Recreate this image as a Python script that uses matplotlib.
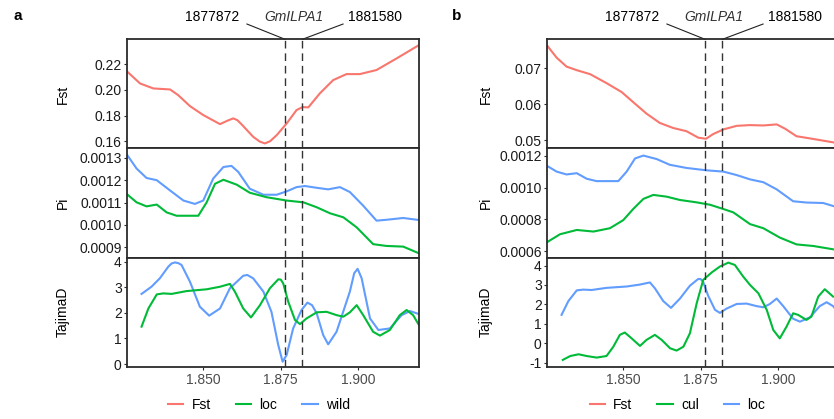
import matplotlib
matplotlib.use("Agg")
import matplotlib.pyplot as plt
from matplotlib.ticker import FixedLocator, FormatStrFormatter
from matplotlib.lines import Line2D

plt.rcParams['font.family'] = ['Liberation Sans', 'DejaVu Sans']
plt.rcParams['font.size'] = 10

# positions are in Mb
# ---- panel a: Fst (loc vs wild) ----
fst_a_pos = [1.8255, 1.8296, 1.8339, 1.8393, 1.8419, 1.8457, 1.8500, 1.8554, 1.8580, 1.8597,
             1.8610, 1.8625, 1.8661, 1.8682, 1.8699, 1.8716, 1.8737, 1.8769, 1.8801, 1.8820,
             1.8839, 1.8876, 1.8919, 1.8962, 1.9005, 1.9059, 1.9124, 1.9196]
fst_a = [0.2143, 0.2051, 0.2012, 0.2004, 0.1960, 0.1874, 0.1804, 0.1733, 0.1762, 0.1778,
         0.1764, 0.1728, 0.1634, 0.1597, 0.1582, 0.1600, 0.1647, 0.1738, 0.1843, 0.1866,
         0.1864, 0.1973, 0.2077, 0.2124, 0.2124, 0.2156, 0.2247, 0.2351]

# ---- Pi ----
pi_wild_pos = [1.8255, 1.8285, 1.8317, 1.8350, 1.8393, 1.8436, 1.8473, 1.8500, 1.8532, 1.8565,
               1.8591, 1.8613, 1.8650, 1.8694, 1.8737, 1.8769, 1.8801, 1.8828, 1.8866, 1.8903,
               1.8941, 1.8973, 1.9016, 1.9059, 1.9091, 1.9145, 1.9196]
pi_wild = [0.001312, 0.001252, 0.001210, 0.001200, 0.001154, 0.001109, 0.001094, 0.001109, 0.001207, 0.001259,
           0.001264, 0.001237, 0.001162, 0.001135, 0.001135, 0.001150, 0.001169, 0.001174, 0.001166, 0.001159,
           0.001169, 0.001147, 0.001086, 0.001019, 0.001023, 0.001031, 0.001022]

pi_loc_pos = [1.8255, 1.8285, 1.8317, 1.8350, 1.8382, 1.8414, 1.8484, 1.8511, 1.8538, 1.8565,
              1.8608, 1.8650, 1.8704, 1.8769, 1.8823, 1.8866, 1.8909, 1.8952, 1.8995, 1.9048,
              1.9091, 1.9145, 1.9196]
pi_loc = [0.001136, 0.001101, 0.001083, 0.001091, 0.001056, 0.001041, 0.001041, 0.001101, 0.001184, 0.001202,
          0.001180, 0.001144, 0.001124, 0.001109, 0.001101, 0.001079, 0.001052, 0.001034, 0.000989, 0.000914,
          0.000906, 0.000903, 0.000873]

pi_cul_pos = [1.8255, 1.8296, 1.8350, 1.8404, 1.8457, 1.8500, 1.8532, 1.8565, 1.8597, 1.8640,
              1.8683, 1.8737, 1.8780, 1.8823, 1.8855, 1.8909, 1.8952, 1.9005, 1.9059, 1.9113,
              1.9196]
pi_cul = [0.000657, 0.000706, 0.000733, 0.000723, 0.000744, 0.000795, 0.000865, 0.000929, 0.000954, 0.000943,
          0.000922, 0.000907, 0.000892, 0.000865, 0.000844, 0.000770, 0.000744, 0.000685, 0.000642, 0.000632,
          0.000605]

# ---- TajimaD ----
taj_wild_pos = [1.8301, 1.8333, 1.8360, 1.8387, 1.8398, 1.8409, 1.8420, 1.8430, 1.8457, 1.8489,
                1.8519, 1.8554, 1.8586, 1.8629, 1.8642, 1.8661, 1.8694, 1.8720, 1.8742, 1.8756,
                1.8769, 1.8790, 1.8817, 1.8836, 1.8851, 1.8866, 1.8887, 1.8903, 1.8930, 1.8973,
                1.8987, 1.8998, 1.9011, 1.9038, 1.9065, 1.9102, 1.9140, 1.9167, 1.9196]
taj_wild = [2.74, 3.02, 3.35, 3.80, 3.93, 3.97, 3.94, 3.87, 3.22, 2.24,
            1.89, 2.17, 2.96, 3.45, 3.48, 3.35, 2.83, 2.04, 0.74, 0.09,
            0.35, 1.39, 2.11, 2.40, 2.30, 1.98, 1.13, 0.77, 1.26, 2.83,
            3.55, 3.72, 3.35, 1.78, 1.33, 1.39, 1.91, 2.07, 1.95]

taj_loc_pos = [1.8301, 1.8323, 1.8350, 1.8371, 1.8398, 1.8446, 1.8511, 1.8554, 1.8586, 1.8602,
               1.8629, 1.8654, 1.8683, 1.8715, 1.8742, 1.8750, 1.8758, 1.8774, 1.8796, 1.8812,
               1.8833, 1.8866, 1.8898, 1.8930, 1.8952, 1.8973, 1.8995, 1.9016, 1.9048, 1.9070,
               1.9102, 1.9134, 1.9156, 1.9177, 1.9196]
taj_loc = [1.46, 2.17, 2.72, 2.76, 2.74, 2.85, 2.92, 3.02, 3.13, 2.83,
           2.17, 1.82, 2.30, 2.96, 3.31, 3.30, 3.15, 2.44, 1.72, 1.56,
           1.78, 2.02, 2.04, 1.91, 1.85, 2.02, 2.30, 1.91, 1.26, 1.11,
           1.33, 1.91, 2.11, 1.91, 1.52]

taj_cul_pos = [1.8305, 1.8329, 1.8356, 1.8382, 1.8414, 1.8446, 1.8468, 1.8489, 1.8505, 1.8527,
               1.8554, 1.8575, 1.8602, 1.8624, 1.8651, 1.8672, 1.8694, 1.8715, 1.8737, 1.8758,
               1.8785, 1.8812, 1.8839, 1.8860, 1.8887, 1.8909, 1.8936, 1.8963, 1.8984, 1.9005,
               1.9027, 1.9048, 1.9064, 1.9091, 1.9107, 1.9129, 1.9150, 1.9177]
taj_cul = [-0.86, -0.66, -0.57, -0.66, -0.74, -0.66, -0.18, 0.43, 0.55, 0.25,
           -0.14, 0.17, 0.43, 0.17, -0.26, -0.38, -0.18, 0.51, 2.06, 3.26,
           3.64, 3.95, 4.15, 4.03, 3.43, 3.00, 2.57, 1.71, 0.68, 0.25,
           0.86, 1.54, 1.46, 1.20, 1.37, 2.40, 2.78, 2.40]

# ---- panel b: Fst (cul vs loc) ----
fst_b_pos = [1.8255, 1.8285, 1.8317, 1.8350, 1.8393, 1.8446, 1.8495, 1.8532, 1.8575, 1.8618,
             1.8661, 1.8704, 1.8742, 1.8767, 1.8790, 1.8823, 1.8866, 1.8909, 1.8952, 1.8995,
             1.9022, 1.9059, 1.9102, 1.9177, 1.9196]
fst_b = [0.0763, 0.0730, 0.0705, 0.0695, 0.0684, 0.0659, 0.0634, 0.0606, 0.0574, 0.0548,
         0.0534, 0.0525, 0.0507, 0.0504, 0.0517, 0.0530, 0.0540, 0.0542, 0.0541, 0.0544,
         0.0532, 0.0511, 0.0505, 0.0494, 0.0492]

gene_start, gene_end = 1.8764, 1.8820   # where 1877872 / 1881580 are drawn
gene_name = 'GmILPA1'
x_ticks = [1.850, 1.875, 1.900]

RED, GREEN, BLUE = '#F8766D', '#00BA38', '#619CFF'
SPINE = '#2b2b2b'

fig = plt.figure(figsize=(8.34, 4.19), dpi=100)

H = 109.13 / 419
BOTTOM = 1 - 366.7 / 419
W = 291.7 / 834


def style_axis(ax, lim, ticks, fmt):
    ax.set_xlim(1.8255, 1.9196)
    ax.set_ylim(*lim)
    ax.yaxis.set_major_locator(FixedLocator(ticks))
    ax.yaxis.set_major_formatter(FormatStrFormatter(fmt))
    for s in ax.spines.values():
        s.set_linewidth(1.3)
        s.set_color(SPINE)
    ax.tick_params(axis='y', length=2.5, width=0.8, color=SPINE, labelcolor='#1a1a1a',
                   labelsize=10, pad=1.5)
    ax.tick_params(axis='x', length=2.5, width=0.8, color=SPINE, labelcolor='#4d4d4d',
                   labelsize=10, pad=2)
    ax.axvline(gene_start, color='#333333', lw=1, ls=(0, (5.5, 3.5)), zorder=3)
    ax.axvline(gene_end, color='#333333', lw=1, ls=(0, (5.5, 3.5)), zorder=3)


def draw_panel(left, letter, fst_pos, fst_vals, fst_lim, fst_ticks,
               pi_series, pi_lim, pi_ticks, taj_series, taj_lim, taj_ticks,
               labels, legend_x, label_dx):
    ax_f = fig.add_axes([left, BOTTOM + 2 * H, W, H])
    ax_p = fig.add_axes([left, BOTTOM + H, W, H])
    ax_t = fig.add_axes([left, BOTTOM, W, H])

    ax_f.plot(fst_pos, fst_vals, color=RED, lw=1.5, solid_joinstyle='round')
    for pos, vals, c in pi_series:
        ax_p.plot(pos, vals, color=c, lw=1.5, solid_joinstyle='round')
    for pos, vals, c in taj_series:
        ax_t.plot(pos, vals, color=c, lw=1.5, solid_joinstyle='round')

    style_axis(ax_f, fst_lim, fst_ticks, '%.2f')
    style_axis(ax_p, pi_lim, pi_ticks, '%.4f')
    style_axis(ax_t, taj_lim, taj_ticks, '%d')
    for ax in (ax_f, ax_p):
        ax.set_xticks([])
    ax_t.set_xticks(x_ticks)
    ax_t.xaxis.set_major_formatter(FormatStrFormatter('%.3f'))

    for ax, name in ((ax_f, 'Fst'), (ax_p, 'Pi'), (ax_t, 'TajimaD')):
        ax.set_ylabel(name, va='center', fontsize=10)
        ax.yaxis.set_label_coords(label_dx, 0.5)

    # gene annotation above the top axes
    tr = ax_f.get_xaxis_transform()
    ax_f.plot([gene_start, gene_start - 0.0123], [1.0, 1.14], color='#222222', lw=0.8,
              transform=tr, clip_on=False)
    ax_f.plot([gene_end, gene_end + 0.0131], [1.0, 1.14], color='#222222', lw=0.8,
              transform=tr, clip_on=False)
    ax_f.text(gene_start - 0.0236, 1.205, '1877872', transform=tr, ha='center', va='center')
    ax_f.text((gene_start + gene_end) / 2, 1.205, gene_name, style='italic', transform=tr,
              ha='center', va='center', color='#333333')
    ax_f.text(gene_end + 0.0234, 1.205, '1881580', transform=tr, ha='center', va='center')

    fig.text(left - 0.131 if letter == 'a' else left - 0.1093, 0.963, letter,
             fontweight='bold', fontsize=11, ha='center', va='center')

    handles = [Line2D([], [], color=c, lw=1.5) for c in (RED, GREEN, BLUE)]
    fig.legend(handles, labels, loc='center', bbox_to_anchor=(legend_x, 0.034), ncol=3,
               frameon=False, handlelength=1.1, handletextpad=0.6, columnspacing=1.8,
               fontsize=10)


draw_panel(127.3 / 834, 'a', fst_a_pos, fst_a, (0.1543, 0.2396), [0.16, 0.18, 0.20, 0.22],
           [(pi_wild_pos, pi_wild, BLUE), (pi_loc_pos, pi_loc, GREEN)],
           (0.000854, 0.001342), [0.0009, 0.0010, 0.0011, 0.0012, 0.0013],
           [(taj_wild_pos, taj_wild, BLUE), (taj_loc_pos, taj_loc, GREEN)],
           (-0.105, 4.16), [0, 1, 2, 3, 4],
           ['Fst', 'loc', 'wild'], 259 / 834, -(127.3 - 63) / 291.7)

draw_panel(547.3 / 834, 'b', fst_b_pos, fst_b, (0.0477, 0.0781), [0.05, 0.06, 0.07],
           [(pi_loc_pos, pi_loc, BLUE), (pi_cul_pos, pi_cul, GREEN)],
           (0.000559, 0.001247), [0.0006, 0.0008, 0.0010, 0.0012],
           [(taj_loc_pos, taj_loc, BLUE), (taj_cul_pos, taj_cul, GREEN)],
           (-1.21, 4.41), [-1, 0, 1, 2, 3, 4],
           ['Fst', 'cul', 'loc'], 677.5 / 834, -(547.3 - 486) / 291.7)

fig.savefig('out.png', dpi=100)
